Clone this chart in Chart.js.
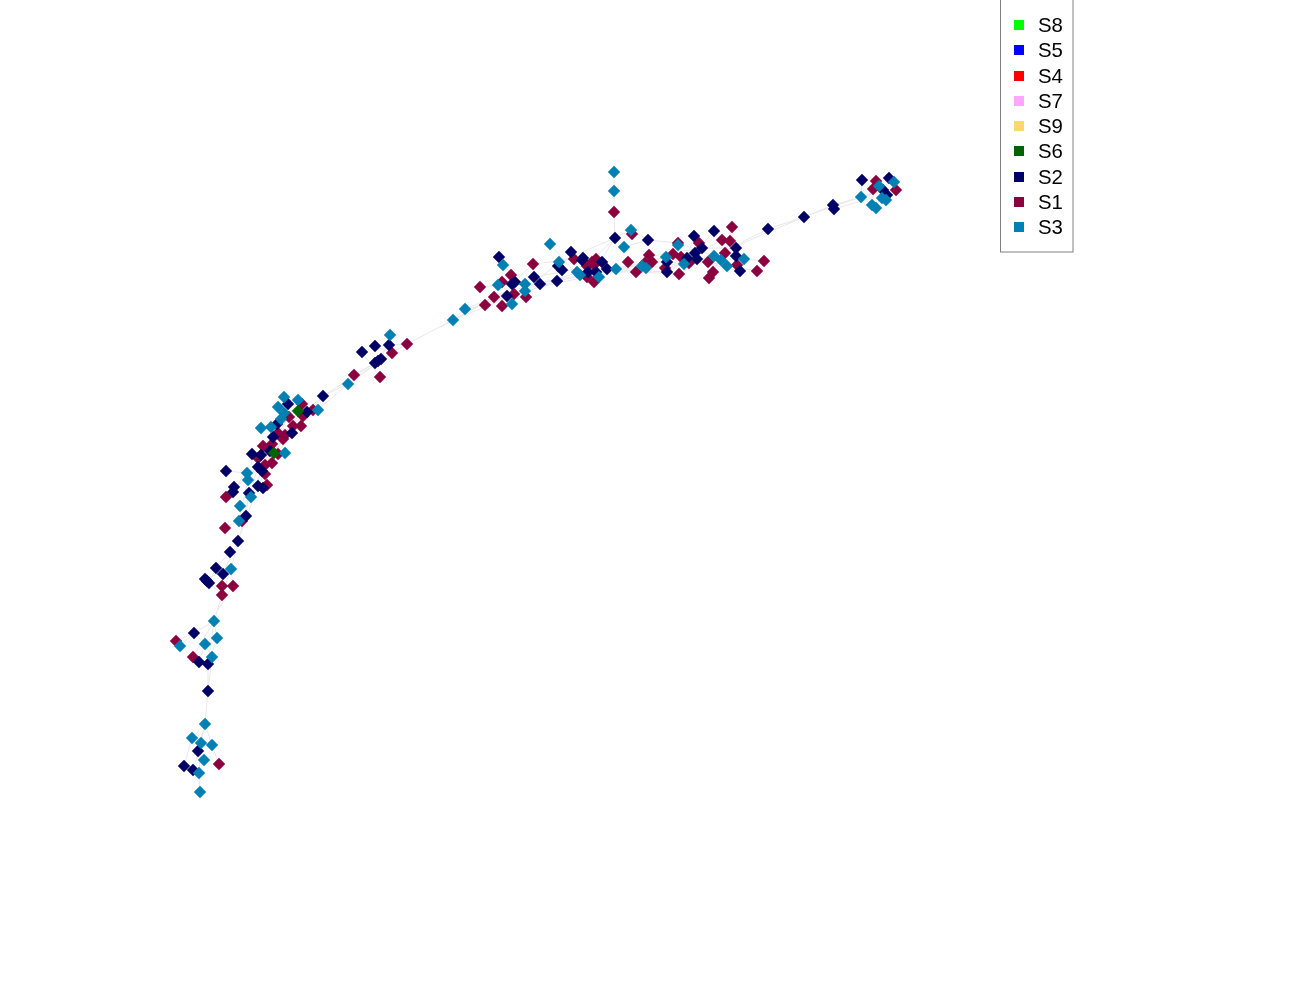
<!DOCTYPE html>
<html><head><meta charset="utf-8">
<script src="https://cdn.jsdelivr.net/npm/chart.js@4"></script>
<style>html,body{margin:0;padding:0;background:#fff}canvas{display:block}</style>
</head><body><canvas id="c" width="1300" height="1000"></canvas>
<script>
const legendOrder = ["S8","S5","S4","S7","S9","S6","S2","S1","S3"];
const colors = {S8:"#00ff00",S5:"#0000ff",S4:"#ff0000",S7:"#ffa6ff",S9:"#ffd966",S6:"#006400",S2:"#000066",S1:"#8c0040",S3:"#0080b3"};

const s3 = [[614,172],[614,191],[550,244],[503,265],[498,285],[525,284],[525,291],[512,304],[559,262],[577,272],[580,275],[599,277],[616,269],[624,247],[631,230],[642,266],[646,268],[666,257],[678,245],[684,264],[714,256],[721,260],[727,266],[744,259],[861,197],[879,186],[894,182],[872,205],[876,208],[882,198],[886,200],[465,309],[453,320],[390,335],[348,384],[284,397],[298,400],[278,407],[318,410],[284,413],[281,419],[271,427],[261,428],[285,453],[247,473],[248,480],[251,497],[240,506],[239,521],[231,569],[214,621],[217,638],[205,644],[212,657],[180,646],[205,724],[192,738],[201,743],[212,745],[204,760],[199,773],[200,792]];
const s2 = [[615,238],[499,257],[571,252],[583,258],[582,260],[558,266],[562,270],[534,277],[540,284],[557,281],[515,282],[512,284],[507,296],[602,262],[607,269],[588,272],[596,272],[648,240],[667,262],[667,272],[694,236],[714,231],[695,253],[702,248],[697,259],[687,258],[736,248],[736,256],[740,271],[768,229],[804,217],[833,205],[834,209],[862,180],[889,178],[883,190],[887,195],[375,346],[362,352],[389,345],[381,359],[375,363],[378,361],[323,396],[288,404],[307,412],[277,424],[292,433],[273,437],[252,454],[261,455],[270,451],[226,471],[258,467],[262,471],[234,487],[233,492],[249,493],[258,486],[263,488],[246,516],[238,541],[230,552],[216,568],[223,574],[205,579],[207,581],[209,583],[194,633],[199,662],[208,664],[208,691],[198,751],[184,766],[193,770]];
const s1 = [[614,212],[533,264],[480,287],[511,275],[502,282],[494,297],[514,294],[526,297],[485,305],[502,306],[574,259],[587,266],[592,262],[596,259],[594,265],[587,277],[594,282],[628,262],[632,234],[636,272],[649,255],[652,262],[645,263],[665,268],[673,254],[681,257],[689,263],[679,274],[678,243],[699,243],[708,262],[713,272],[709,278],[722,240],[730,241],[732,227],[725,253],[737,265],[757,271],[764,261],[876,181],[873,189],[896,190],[407,344],[392,353],[354,375],[380,377],[302,404],[313,410],[303,416],[289,417],[293,426],[301,426],[278,433],[285,435],[283,439],[263,446],[272,444],[258,458],[278,454],[272,463],[265,465],[265,474],[226,497],[267,485],[225,528],[242,521],[222,586],[233,586],[222,595],[176,641],[193,657],[219,764]];
const s6 = [[298,411],[274,453]];
const s8 = [], s5 = [], s4 = [], s7 = [], s9 = [];

const edgePaths = [
 [[200,792],[199,773],[204,760],[198,751],[205,724],[208,691],[208,664],[214,621],[222,595],[231,569],[238,541],[246,516],[240,506],[251,497],[262,471],[273,437],[292,433],[323,396],[348,384],[380,360],[407,344],[453,320],[465,309],[485,305],[540,284],[580,272],[615,238],[614,212],[614,191],[614,172]],
 [[205,724],[192,738],[184,766]],[[205,724],[201,743],[193,770]],[[205,724],[212,745],[219,764]],[[201,743],[199,773]],
 [[208,691],[212,657],[205,644],[194,633],[176,641]],[[214,621],[194,633],[180,646]],[[214,621],[217,638],[208,664]],[[214,621],[193,657]],[[205,644],[199,662]],
 [[222,595],[209,583],[216,568],[230,552]],[[222,586],[223,574],[238,541]],[[233,586],[231,569]],[[205,579],[231,569]],[[218,610],[233,586]],
 [[225,528],[246,516],[249,493]],[[239,521],[248,480],[273,437]],[[242,521],[258,467],[292,433]],[[234,487],[265,465],[301,426]],[[226,497],[258,467],[278,433]],[[226,471],[247,473],[278,454]],[[233,492],[262,446],[302,404]],[[251,497],[272,444],[307,412]],[[238,541],[258,486],[285,435]],
 [[261,428],[281,419],[318,410],[323,396]],[[284,397],[288,418],[272,444]],[[298,400],[277,436]],[[278,407],[285,435]],[[323,396],[295,420],[265,465]],[[348,384],[300,425],[262,455]],
 [[354,375],[375,363],[389,345],[407,344]],[[362,352],[380,377]],[[375,346],[392,353],[348,384]],[[390,335],[381,359]],[[407,344],[375,363],[323,396]],
 [[453,320],[494,297],[534,277],[571,270],[640,266]],[[465,309],[512,290],[558,279],[620,270]],[[440,327],[485,303],[540,287],[590,276],[690,262]],[[453,320],[502,300],[556,281],[630,268]],
 [[480,287],[512,284],[533,264],[574,259],[602,262]],[[499,257],[512,284]],[[550,244],[571,268]],[[503,265],[525,287]],[[512,304],[525,291],[559,262],[615,238]],
 [[615,238],[631,230],[648,240],[678,243],[714,256]],[[624,247],[648,240]],[[615,238],[600,262]],[[616,269],[666,257],[697,259],[744,259],[764,261]],[[596,272],[652,262],[708,262],[757,271]],[[580,272],[636,272],[679,274],[714,252]],[[607,269],[667,272],[721,240]],[[640,258],[702,248],[736,248]],[[660,268],[700,262],[740,271]],[[709,278],[730,241]],[[694,236],[687,258]],[[714,231],[695,253]],[[732,227],[725,253]],
 [[714,256],[768,229],[804,217],[834,206],[861,197],[883,190]],[[722,252],[804,217],[833,205],[880,192]],[[862,180],[861,197]],[[834,209],[872,198],[876,190]],[[861,197],[872,205]],[[883,190],[876,208]],[[889,178],[882,198]]
];
const edgeX = edgePaths.flatMap(p => [...p.map(q => q[0]), null]);
const edgeY = edgePaths.flatMap(p => [...p.map(q => q[1]), null]);

const toPts = a => a.map(q => ({x:q[0], y:q[1]}));
const seriesData = {S8:s8,S5:s5,S4:s4,S7:s7,S9:s9,S6:s6,S2:s2,S1:s1,S3:s3};
const drawOrder = ["S6","S3","S2","S1","S9","S7","S4","S5","S8"];

const legendBox = {
  id:"legendBox",
  afterDraw(chart){
    const ctx = chart.ctx;
    ctx.save();
    ctx.strokeStyle = "#808080";
    ctx.lineWidth = 1;
    ctx.strokeRect(1000.5,-1,72.5,253);
    ctx.font = "20.4px 'Liberation Sans'";
    ctx.textBaseline = "middle";
    legendOrder.forEach((name,i) => {
      const y = 25 + i*25.25;
      ctx.fillStyle = colors[name];
      ctx.fillRect(1014, Math.round(y)-5, 10, 10);
      ctx.fillStyle = "#000";
      ctx.fillText(name, 1038, y+1.5);
    });
    ctx.restore();
  }
};

new Chart(document.getElementById("c"), {
  type:"scatter",
  data:{datasets:[
    ...drawOrder.map(n => ({
      label:n, data:toPts(seriesData[n]), pointStyle:"rectRot", pointRadius:6.2, pointHoverRadius:6.2,
      backgroundColor:colors[n], borderColor:colors[n], borderWidth:0, showLine:false
    })),
    {label:"edges", type:"line", data:edgeX.map((x,i)=>({x, y:edgeY[i]})), borderColor:"#e8e8e8", borderWidth:1, pointRadius:0, spanGaps:false, tension:0, fill:false}
  ]},
  options:{
    responsive:false, animation:false, events:[],
    layout:{padding:0, autoPadding:false},
    plugins:{legend:{display:false}, tooltip:{enabled:false}},
    scales:{
      x:{type:"linear",min:0,max:1300,display:false},
      y:{type:"linear",min:0,max:1000,reverse:true,display:false}
    }
  },
  plugins:[legendBox]
});
</script></body></html>
